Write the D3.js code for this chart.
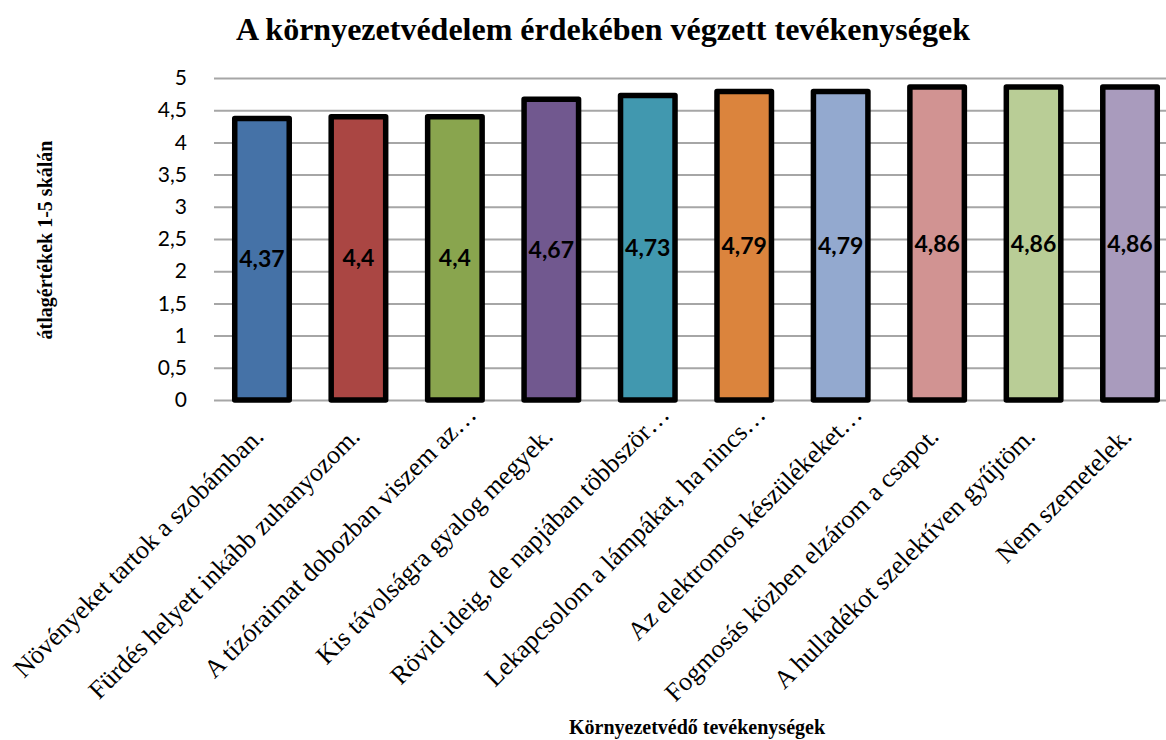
<!DOCTYPE html>
<html>
<head>
<meta charset="utf-8">
<script src="https://cdn.jsdelivr.net/npm/d3@7"></script>
<style>
  body { margin: 0; background: #fff; }
</style>
</head>
<body>
<svg id="chart" width="1166" height="740"></svg>
<script>
// data
const categories = [
  "Növényeket tartok a szobámban.",
  "Fürdés helyett inkább zuhanyozom.",
  "A tízóraimat dobozban viszem az…",
  "Kis távolságra gyalog megyek.",
  "Rövid ideig, de napjában többször…",
  "Lekapcsolom a lámpákat, ha nincs…",
  "Az elektromos készülékeket…",
  "Fogmosás közben elzárom a csapot.",
  "A hulladékot szelektíven gyűjtöm.",
  "Nem szemetelek."
]
const values = [4.37, 4.4, 4.4, 4.67, 4.73, 4.79, 4.79, 4.86, 4.86, 4.86]
const barColors = ["#4572A7", "#AA4643", "#89A54E", "#71588F", "#4198AF",
                   "#DB843D", "#93A9CF", "#D19392", "#B9CD96", "#A99BBD"]
const yTicks = [0, 0.5, 1, 1.5, 2, 2.5, 3, 3.5, 4, 4.5, 5]

const margin = {top: 78, left: 214, bottom: 340, right: -12}
const width = 1166, height = 740
const serif = "'Liberation Serif', 'Times New Roman', serif"
const sans = "Lato, 'Open Sans', sans-serif"
const svg = d3.select("#chart")
const fmt = d => String(d).replace(".", ",")

let x = d3.scaleBand()
  .domain(categories)
  .range([margin.left, width - margin.right])
  .paddingInner(0.435).paddingOuter(0.215)

let y = d3.scaleLinear()
  .domain([0, 5])
  .range([height - margin.bottom, margin.top])

// gridlines + tick labels
let yAxis = svg.append("g")
  .attr("transform", "translate(" + margin.left + ",0)")
  .call(d3.axisLeft(y).tickValues(yTicks).tickFormat(fmt)
        .tickSize(-(width - margin.right - margin.left)).tickPadding(27))
yAxis.select(".domain").remove()
yAxis.selectAll(".tick line").attr("stroke", "#a6a6a6").attr("stroke-width", 2)
yAxis.selectAll(".tick text")
  .attr("font-family", sans)
  .attr("font-size", 21).attr("fill", "#000")

// bars
svg.append("g").selectAll("rect")
  .data(values)
  .enter().append("rect")
  .attr("x", (d, i) => x(categories[i]))
  .attr("y", d => y(d))
  .attr("width", x.bandwidth())
  .attr("height", d => y(0) - y(d))
  .attr("fill", (d, i) => barColors[i])
  .attr("stroke", "#000")
  .attr("stroke-width", 5.5)
  .attr("stroke-linejoin", "round")

// value labels, centred in the bar
svg.append("g").selectAll("text")
  .data(values)
  .enter().append("text")
  .attr("x", (d, i) => x(categories[i]) + x.bandwidth() / 2)
  .attr("y", d => (y(d) + y(0)) / 2)
  .attr("dy", "0.35em")
  .attr("text-anchor", "middle")
  .attr("font-family", sans)
  .attr("font-weight", "bold")
  .attr("font-size", 23)
  .text(fmt)

// slanted category labels (cut-off ones sit a bit further along, like excel does)
svg.append("g").selectAll("text")
  .data(categories)
  .enter().append("text")
  .attr("transform", d => {
    let cx = x(d) + x.bandwidth() / 2 + 3, cy = y(0) + 38
    if (d.endsWith("…")) { cx += 20; cy -= 22 }
    return "translate(" + cx + "," + cy + ") rotate(-45)"
  })
  .attr("text-anchor", "end")
  .attr("font-family", serif)
  .attr("font-size", 26)
  .text(d => d)

// title
svg.append("text")
  .attr("x", 603).attr("y", 40)
  .attr("text-anchor", "middle")
  .attr("font-family", serif)
  .attr("font-weight", "bold").attr("font-size", 32)
  .text("A környezetvédelem érdekében végzett tevékenységek")

// axis titles
svg.append("text")
  .attr("transform", "translate(52,240) rotate(-90)")
  .attr("text-anchor", "middle")
  .attr("font-family", serif)
  .attr("font-weight", "bold").attr("font-size", 20)
  .text("átlagértékek 1-5 skálán")

svg.append("text")
  .attr("x", 697).attr("y", 734)
  .attr("text-anchor", "middle")
  .attr("font-family", serif)
  .attr("font-weight", "bold").attr("font-size", 20)
  .text("Környezetvédő tevékenységek")
</script>
</body>
</html>
